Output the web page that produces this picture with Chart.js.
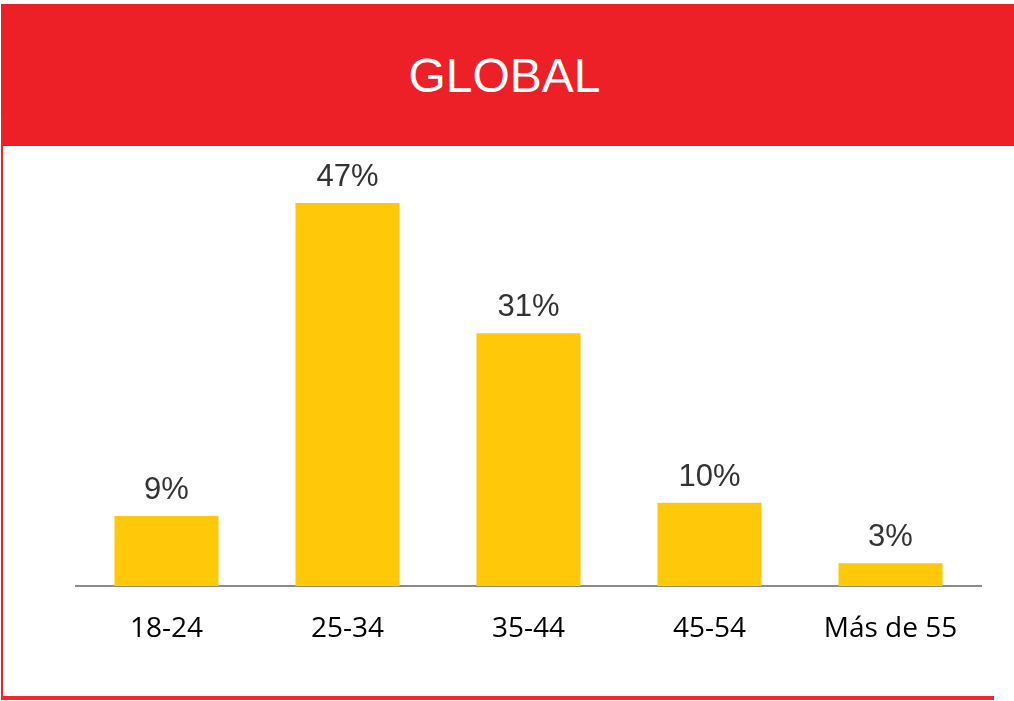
<!DOCTYPE html>
<html>
<head>
<meta charset="utf-8">
<script src="https://cdn.jsdelivr.net/npm/chart.js@4/dist/chart.umd.min.js"></script>
<style>
  html, body { margin: 0; padding: 0; background: #fff; width: 1014px; height: 701px; overflow: hidden; }
  #header { position: absolute; left: 1px; top: 4px; width: 1013px; height: 142px; background: #EE2027;
            color: #fff; font-family: "Liberation Sans", Arial, sans-serif; font-size: 48px;
            display: flex; align-items: center; justify-content: center; padding-left: 0; }
  #header span { position: relative; left: -3px; top: 0px; }
  #leftLine { position: absolute; left: 1px; top: 116px; width: 2px; height: 584px; background: #F0232A; }
  #bottomLine { position: absolute; left: 1px; top: 696px; width: 993px; height: 4px; background: #F52530; }
  #wrap { position: absolute; left: 0; top: 146px; width: 1014px; height: 550px; }
</style>
</head>
<body>
<div id="header"><span>GLOBAL</span></div>
<div id="leftLine"></div>
<div id="bottomLine"></div>
<div id="wrap"><canvas id="c"></canvas></div>
<script>
const categories = ["18-24", "25-34", "35-44", "45-54", "Más de 55"];
const values = [8.6, 47, 31, 10.2, 2.8];
const valueLabels = ["9%", "47%", "31%", "10%", "3%"];

const barLabelPlugin = {
  id: 'barLabels',
  afterDatasetsDraw(chart) {
    const ctx = chart.ctx;
    const meta = chart.getDatasetMeta(0);
    ctx.save();
    ctx.font = '31px "Liberation Sans", Arial, sans-serif';
    ctx.fillStyle = '#333333';
    ctx.textAlign = 'center';
    ctx.textBaseline = 'alphabetic';
    meta.data.forEach((bar, i) => {
      ctx.fillText(valueLabels[i], bar.x, bar.y - 17);
    });
    ctx.restore();
  }
};

new Chart(document.getElementById('c'), {
  type: 'bar',
  data: {
    labels: categories,
    datasets: [{
      data: values,
      backgroundColor: '#FFC90A',
      borderWidth: 0,
      categoryPercentage: 1.0,
      barPercentage: 0.575
    }]
  },
  options: {
    responsive: true,
    maintainAspectRatio: false,
    animation: false,
    events: [],
    layout: { padding: { left: 76, right: 33, top: 32.5, bottom: 0 } },
    plugins: { legend: { display: false }, tooltip: { enabled: false }, title: { display: false } },
    scales: {
      x: {
        grid: { display: false, drawTicks: false },
        border: { display: true, color: '#8C8C8C', width: 2 },
        ticks: { color: '#000000', padding: 26, font: { family: '"Open Sans", sans-serif', size: 28 } },
        afterFit(scale) { scale.height = 110; }
      },
      y: {
        display: false,
        min: 0,
        max: 50
      }
    }
  },
  plugins: [barLabelPlugin]
});
</script>
</body>
</html>
